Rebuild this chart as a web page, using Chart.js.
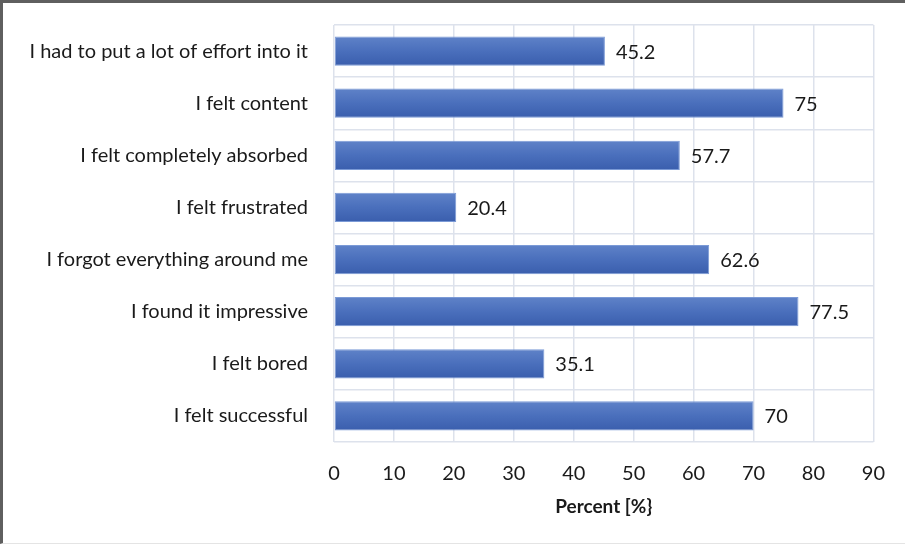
<!DOCTYPE html>
<html>
<head>
<meta charset="utf-8">
<script src="https://cdn.jsdelivr.net/npm/chart.js@4"></script>
<style>
  html, body { margin: 0; padding: 0; background: #fff; }
  .frame {
    width: 905px; height: 544px; box-sizing: border-box;
    border-top: 3px solid #5f5f5f; border-left: 3px solid #5f5f5f;
    border-bottom: 1px solid #e4e4e4;
    position: relative;
  }
  canvas { position: absolute; left: 0; top: 0; }
</style>
</head>
<body>
<div class="frame"><canvas id="feelingsChart" width="902" height="540"></canvas></div>
<script>
const statements = [
    'I had to put a lot of effort into it',
    'I felt content',
    'I felt completely absorbed',
    'I felt frustrated',
    'I forgot everything around me',
    'I found it impressive',
    'I felt bored',
    'I felt successful'
];
const percentAgree = [45.2, 75, 57.7, 20.4, 62.6, 77.5, 35.1, 70];
const axisMin = 0;
const axisMax = 90;
const axisStep = 10;

const fontFamily = 'Lato, "Open Sans", sans-serif';
const fontSize = 20;
const barPct = 0.56;

// vertical blue gradient for each bar, like an office-style fill
function barFill(c) {
    const chart = c.chart;
    const area = chart.chartArea;
    if (!area) return '#4a6fba';
    const yScale = chart.scales.y;
    const mid = yScale.getPixelForValue(c.dataIndex);
    const half = (area.height / statements.length) * barPct / 2;
    const g = chart.ctx.createLinearGradient(0, mid - half, 0, mid + half);
    g.addColorStop(0, '#5f82c8');
    g.addColorStop(0.5, '#4a6fbc');
    g.addColorStop(1, '#3a5ead');
    return g;
}

// value text to the right of each bar
const valueLabels = {
    id: 'valueLabels',
    afterDatasetsDraw(chart) {
        const ctx = chart.ctx;
        const meta = chart.getDatasetMeta(0);
        const data = chart.data.datasets[0].data;
        ctx.save();
        ctx.font = fontSize + 'px ' + fontFamily;
        ctx.fillStyle = '#1a1a1a';
        ctx.textAlign = 'left';
        ctx.textBaseline = 'middle';
        meta.data.forEach((bar, i) => {
            ctx.fillText(String(data[i]), bar.x + 11, bar.y + 1);
        });
        ctx.restore();
    }
};

const ctx = document.getElementById('feelingsChart').getContext('2d');
const feelingsChart = new Chart(ctx, {
    type: 'bar',
    data: {
        labels: statements,
        datasets: [{
            data: percentAgree,
            backgroundColor: barFill,
            borderColor: '#7b9ad6',
            borderWidth: 1,
            borderSkipped: false,
            categoryPercentage: 1,
            barPercentage: barPct
        }]
    },
    options: {
        indexAxis: 'y',
        responsive: false,
        animation: false,
        layout: {
            padding: { left: 0, right: 30, top: 22, bottom: 21 }
        },
        scales: {
            x: {
                min: axisMin,
                max: axisMax,
                ticks: {
                    stepSize: axisStep,
                    color: '#1a1a1a',
                    font: { family: fontFamily, size: fontSize },
                    padding: 20
                },
                grid: { color: '#dde2ec', lineWidth: 1.5, drawTicks: false },
                border: { display: false },
                title: {
                    display: true,
                    text: 'Percent [%}',
                    color: '#1a1a1a',
                    font: { family: fontFamily, size: 19, weight: 'bold' },
                    padding: { top: 4, bottom: 4 }
                },
                afterFit(axis) { axis.height = 80; }
            },
            y: {
                ticks: {
                    color: '#1a1a1a',
                    font: { family: fontFamily, size: fontSize },
                    padding: 26
                },
                grid: { color: '#dde2ec', lineWidth: 1.5, drawTicks: false, offset: true },
                border: { display: false },
                afterFit(axis) {
                    axis.width = 331;
                    axis.paddingTop = 0;
                    axis.paddingBottom = 0;
                }
            }
        },
        plugins: {
            legend: { display: false },
            tooltip: { enabled: false }
        }
    },
    plugins: [valueLabels]
});
</script>
</body>
</html>
